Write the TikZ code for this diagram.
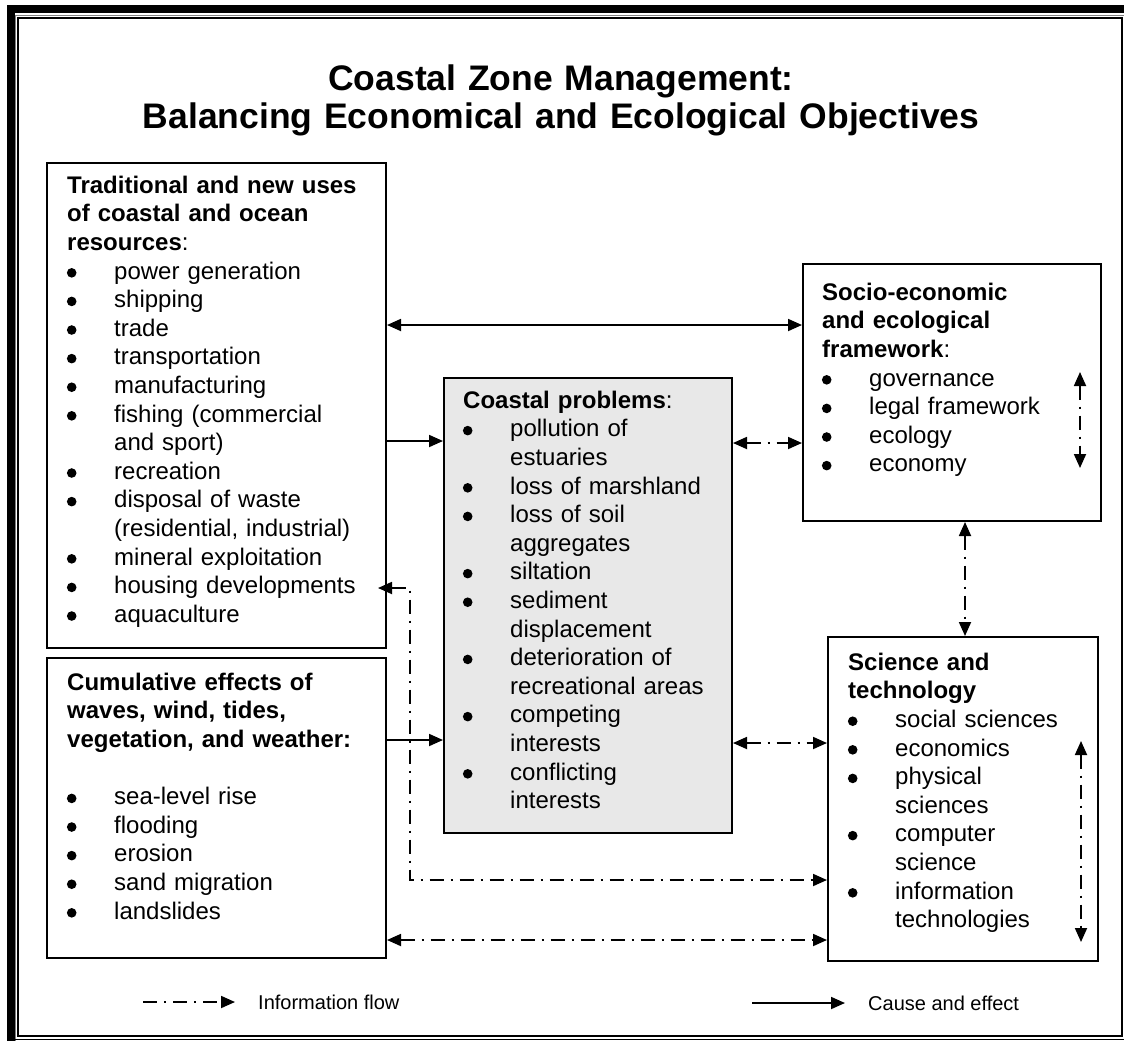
\documentclass[tikz,border=0pt]{standalone}
\usepackage{fontspec}
\setmainfont{Liberation Sans}
\usetikzlibrary{arrows.meta}
\definecolor{probgray}{RGB}{232,232,232}
\newcommand{\cont}{\hspace*{47pt}}
\begin{document}
\begin{tikzpicture}[x=1pt,y=-1pt,
  >={Triangle[length=14pt,width=12pt]},
  box/.style={draw=black, line width=2pt, anchor=north west, inner sep=0pt},
  txt/.style={anchor=north west, inner sep=0pt, align=left, text width=#1,
    font=\fontsize{24}{28.6}\selectfont},
  txt/.default=330pt,
  cause/.style={line width=1.8pt},
  flow/.style={line width=1.8pt, dash pattern=on 14pt off 7pt on 2pt off 7pt},
  legend/.style={anchor=base west, inner sep=0pt, font=\fontsize{20}{24}\selectfont},
  dot/.style={fill=black}
]
\useasboundingbox (0,0) rectangle (1124,1042);
% page border
\fill[black] (7,5) rectangle (1124,13.3);
\fill[black] (7,5) rectangle (14.7,1041);
\draw[gray, line width=1pt] (15.5,1041) -- (15.5,15.5) -- (1124,15.5);
\draw[black, line width=1.8pt] (18,18) rectangle (1122,1036);
\draw[black, line width=1.4pt] (14.7,1039.5) -- (1124,1039.5);

% title
\node[anchor=north, inner sep=0pt, align=center, text width=1000pt,
  font=\fontsize{35.5}{38}\selectfont\bfseries] (title) at (561,64)
  {\strut Coastal Zone Management:\\Balancing Economical and Ecological Objectives};

% boxes
\node[box, minimum width=339pt, minimum height=485pt] (b1) at (46,162) {};
\node[box, minimum width=339pt, minimum height=300pt] (b2) at (46,657) {};
\node[box, fill=probgray, minimum width=288pt, minimum height=455pt] (cp) at (443,377) {};
\node[box, minimum width=298pt, minimum height=257pt] (so) at (802,263) {};
\node[box, minimum width=270pt, minimum height=324pt] (sc) at (827,636) {};

% texts
\node[txt] (t1) at (67,173) {\strut\textbf{Traditional and new uses}\\
\textbf{of coastal and ocean}\\
\textbf{resources}:\\
\cont power generation\\
\cont shipping\\
\cont trade\\
\cont transportation\\
\cont manufacturing\\
\cont fishing (commercial\\
\cont and sport)\\
\cont recreation\\
\cont disposal of waste\\
\cont (residential, industrial)\\
\cont mineral exploitation\\
\cont housing developments\\
\cont aquaculture};

\node[txt] (t2) at (67,670) {\strut\textbf{Cumulative effects of}\\
\textbf{waves, wind, tides,}\\
\textbf{vegetation, and weather:}\\
\strut\\
\cont sea-level rise\\
\cont flooding\\
\cont erosion\\
\cont sand migration\\
\cont landslides};

\node[txt=260pt] (tcp) at (463,388) {\strut\textbf{Coastal problems}:\\
\cont pollution of\\
\cont estuaries\\
\cont loss of marshland\\
\cont loss of soil\\
\cont aggregates\\
\cont siltation\\
\cont sediment\\
\cont displacement\\
\cont deterioration of\\
\cont recreational areas\\
\cont competing\\
\cont interests\\
\cont conflicting\\
\cont interests};

\node[txt=270pt] (tso) at (822,280) {\strut\textbf{Socio-economic}\\
\textbf{and ecological}\\
\textbf{framework}:\\
\cont governance\\
\cont legal framework\\
\cont ecology\\
\cont economy};

\node[txt=240pt] (tsc) at (848,650) {\strut\textbf{Science and}\\
\textbf{technology}\\
\cont social sciences\\
\cont economics\\
\cont physical\\
\cont sciences\\
\cont computer\\
\cont science\\
\cont information\\
\cont technologies};

% bullets (drawn as dots beside the list lines)
\foreach \k in {3,4,5,6,7,8,10,11,13,14,15}
  \fill[dot] (71.7,193.02+\k*28.6-6) circle (4.8pt);
\foreach \k in {4,5,6,7,8}
  \fill[dot] (71.7,690.02+\k*28.6-6) circle (4.8pt);
\foreach \k in {1,3,4,6,7,9,11,13}
  \fill[dot] (467.7,408.02+\k*28.6-6) circle (4.8pt);
\foreach \k in {3,4,5,6}
  \fill[dot] (826.7,300.02+\k*28.6-6) circle (4.8pt);
\foreach \k in {2,3,4,6,8}
  \fill[dot] (852.7,670.02+\k*28.6-6) circle (4.8pt);

% connector corner / free-end coordinates
\coordinate (c1) at (410,588);
\coordinate (c2) at (410,880);
\coordinate (so1) at (1080,372);
\coordinate (so2) at (1080,468);
\coordinate (sc1) at (1081,741);
\coordinate (sc2) at (1081,942);

% connectors
\draw[cause,<->] (b1.east |- 0,325) -- (so.west |- 0,325);
\draw[cause,->] (b1.east |- 0,441) -- (cp.west |- 0,441);
\draw[cause,->] (b2.east |- 0,740) -- (cp.west |- 0,740);
\draw[flow,<->] (cp.east |- 0,443) -- (so.west |- 0,443);
\draw[flow,<->] (cp.east |- 0,743) -- (sc.west |- 0,743);
\draw[flow,<->,shorten <=-9pt] (b1.east |- c1) -- (c1) -- (c2) -- (sc.west |- c2);
\draw[flow,<->] (b2.east |- 0,940) -- (sc.west |- 0,940);
\draw[flow,<->] (so.south -| 965,0) -- (sc.north -| 965,0);
\draw[flow,<->] (so1) -- (so2);
\draw[flow,<->] (sc1) -- (sc2);

% legend
\node[legend] (lg1) at (258,1009) {Information flow};
\node[legend] (lg2) at (868,1010) {Cause and effect};
\coordinate (la) at (143,1002);
\coordinate (lb) at (752,1003);
\draw[flow,->] (la) -- (lg1.west |- la) [shorten >=23pt];
\draw[cause,->] (lb) -- (lg2.west |- lb) [shorten >=23pt];
\end{tikzpicture}
\end{document}
